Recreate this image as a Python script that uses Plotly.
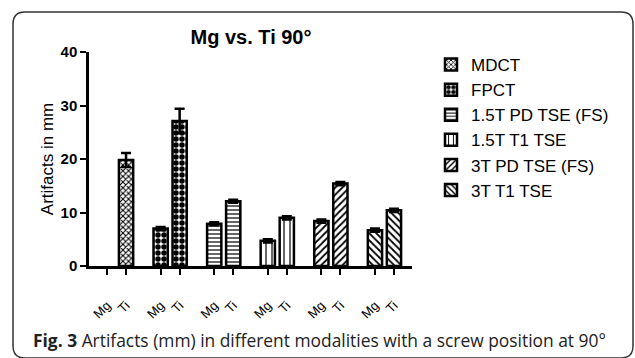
import plotly.graph_objects as go

# ---- data ----
metals = ["Mg", "Ti"]
modalities = ["MDCT", "FPCT", "1.5T PD TSE (FS)", "1.5T T1 TSE", "3T PD TSE (FS)", "3T T1 TSE"]
mg_values = [None, 7.0, 7.9, 4.7, 8.4, 6.7]
ti_values = [19.8, 27.1, 12.1, 9.0, 15.4, 10.4]
mg_errors = [0, 0.3, 0.3, 0.3, 0.3, 0.3]
ti_errors = [1.3, 2.3, 0.3, 0.3, 0.3, 0.3]
y_ticks = [0, 10, 20, 30, 40]

patterns = [
    dict(shape="x", size=4, solidity=0.45),
    dict(shape=".", size=6, solidity=0.65),
    dict(shape="-", size=4, solidity=0.3),
    dict(shape="|", size=6, solidity=0.2),
    dict(shape="/", size=5, solidity=0.35),
    dict(shape="\\", size=5, solidity=0.35),
]

W, H = 635, 358
L, R, T, B = 89, 412, 52, 266  # plot area in px
GROUP_STEP = 2.82

def px_x(p):
    return (p - L) / (R - L)

def px_y(p):
    return (B - p) / (B - T)

fig = go.Figure()
tickvals, ticktext = [], []
for g, name in enumerate(modalities):
    xs = [g * GROUP_STEP + i for i in range(len(metals))]
    tickvals += xs
    ticktext += metals
    fig.add_trace(go.Bar(
        x=xs,
        y=[mg_values[g], ti_values[g]],
        name=name,
        width=0.75,
        marker=dict(
            color="white",
            line=dict(color="black", width=2.5),
            pattern=dict(fgcolor="black", bgcolor="white", fillmode="replace", **patterns[g]),
        ),
        error_y=dict(type="data", array=[mg_errors[g], ti_errors[g]], visible=True,
                     color="black", thickness=2.5, width=5),
    ))

# rounded frame
x0, x1 = px_x(13), px_x(633)
y0, y1 = px_y(12), px_y(358)
rx = 12 / (R - L)
ry = 12 / (B - T)
path = (f"M {x0+rx},{y0} L {x1-rx},{y0} Q {x1},{y0} {x1},{y0-ry} "
        f"L {x1},{y1+ry} Q {x1},{y1} {x1-rx},{y1} "
        f"L {x0+rx},{y1} Q {x0},{y1} {x0},{y1+ry} "
        f"L {x0},{y0-ry} Q {x0},{y0} {x0+rx},{y0} Z")
fig.add_shape(type="path", xref="paper", yref="paper", path=path,
              line=dict(color="#333333", width=1.5), layer="below")

fig.add_annotation(
    xref="paper", yref="paper", x=px_x(31), y=px_y(340), xanchor="left", yanchor="middle",
    text="<b>Fig. 3</b> Artifacts (mm) in different modalities with a screw position at 90°",
    showarrow=False, font=dict(family="Open Sans", size=17.4, color="#222222"),
)

fig.update_layout(
    width=W, height=H,
    margin=dict(l=L, r=W - R, t=T, b=H - B, autoexpand=False),
    paper_bgcolor="white", plot_bgcolor="white",
    barmode="overlay",
    font=dict(family="Liberation Sans", color="black"),
    title=dict(text="<b>Mg vs. Ti 90°</b>", x=px_x(251), xref="paper", xanchor="center",
               y=1 - 37 / H, yanchor="middle", font=dict(size=20, family="Liberation Sans")),
    xaxis=dict(range=[-0.95, 16.05], tickvals=tickvals, ticktext=ticktext, tickangle=-45,
               showline=True, linecolor="black", linewidth=2.5, ticks="outside",
               ticklen=6, tickwidth=2, tickcolor="black", showgrid=False, zeroline=False,
               tickfont=dict(size=13), ticklabelstandoff=18, automargin=False),
    yaxis=dict(range=[0, 40], tickvals=y_ticks, showline=True, linecolor="black", linewidth=2.5,
               ticks="outside", ticklen=6, tickwidth=2, tickcolor="black", showgrid=False,
               zeroline=False, tickfont=dict(size=15, weight="bold"), automargin=False,
               title=dict(text="Artifacts in mm", font=dict(size=17), standoff=3)),
    legend=dict(x=px_x(431), y=px_y(47), xanchor="left", yanchor="top",
                font=dict(size=17), bgcolor="rgba(0,0,0,0)", tracegroupgap=0),
    showlegend=True,
)

fig.write_html("out.html", config={"displayModeBar": False},
               post_script="document.body.style.margin='0';")
